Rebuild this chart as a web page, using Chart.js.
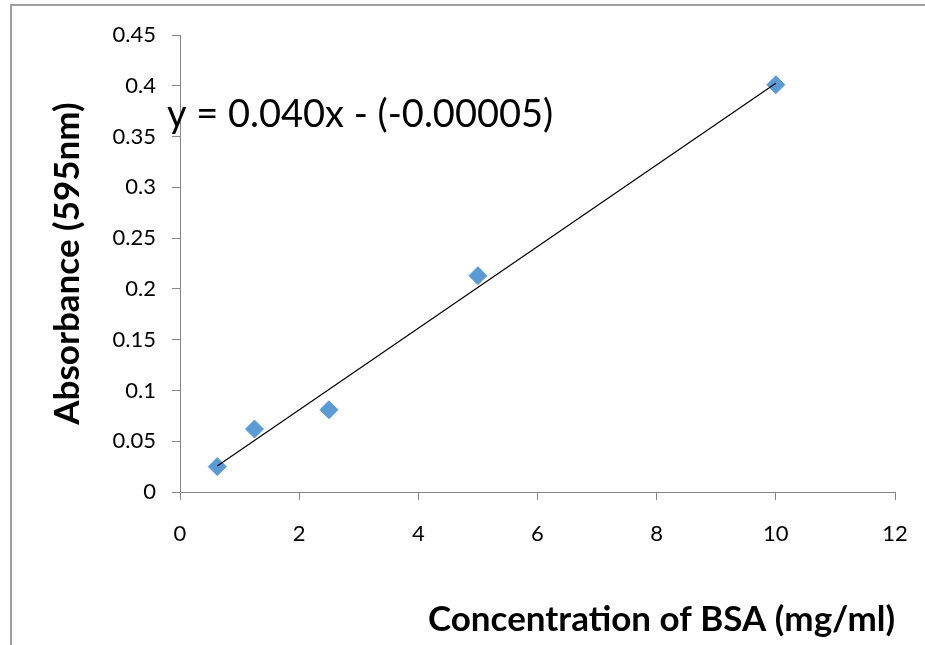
<!DOCTYPE html>
<html>
<head>
<meta charset="utf-8">
<script src="https://cdn.jsdelivr.net/npm/chart.js@4/dist/chart.umd.min.js"></script>
<style>
  body { margin: 0; background: #fff; }
  #wrap { position: relative; width: 925px; height: 645px; }
  #frame { position: absolute; left: 10px; top: 4px; right: 0; bottom: 0; border-top: 2px solid #a0a0a0; border-left: 2px solid #a0a0a0; pointer-events: none; }
  canvas { position: absolute; left: 0; top: 0; }
</style>
</head>
<body>
<div id="wrap">
  <canvas id="myChart" width="925" height="645"></canvas>
  <div id="frame"></div>
</div>
<script>
// BSA standard curve readings
const concentration = [0.625, 1.25, 2.5, 5, 10];
const absorbance = [0.025, 0.062, 0.081, 0.213, 0.401];

// linear trendline end points as drawn
const trendX = [0.625, 10];
const trendY = [0.0256, 0.4026];

const xTicks = [0, 2, 4, 6, 8, 10, 12];
const yTicks = [0, 0.05, 0.1, 0.15, 0.2, 0.25, 0.3, 0.35, 0.4, 0.45];

const equationText = "y = 0.040x - (-0.00005)";

const font = "Lato";
const axisGray = "#868686";

const equationLabel = {
    id: "equationLabel",
    afterDatasetsDraw(chart) {
        const ctx = chart.ctx;
        const x = chart.scales.x.getPixelForValue(-0.22);
        const y = chart.scales.y.getPixelForValue(0.371);
        ctx.save();
        ctx.font = "38px " + font;
        ctx.fillStyle = "#000";
        ctx.textAlign = "left";
        ctx.textBaseline = "middle";
        ctx.fillText(equationText, x, y);
        ctx.restore();
    }
};

let ctx = document.getElementById("myChart");
new Chart(ctx, {
    type: "scatter",
    data: {
        datasets: [
            {
                label: "Absorbance",
                data: concentration.map((c, i) => ({ x: c, y: absorbance[i] })),
                pointStyle: "rectRot",
                pointRadius: 9,
                pointBackgroundColor: "#5B9BD5",
                pointBorderColor: "#5B9BD5",
                pointBorderWidth: 1,
                showLine: false,
                order: 2,
            },
            {
                label: "Linear",
                data: trendX.map((c, i) => ({ x: c, y: trendY[i] })),
                showLine: true,
                borderColor: "#000",
                borderWidth: 1.2,
                pointRadius: 0,
                order: 1,
            },
        ],
    },
    options: {
        responsive: false,
        animation: false,
        layout: { padding: { top: 35, right: 30, left: 0, bottom: 0 } },
        plugins: {
            legend: { display: false },
            tooltip: { enabled: false },
        },
        scales: {
            x: {
                type: "linear",
                min: 0,
                max: 12,
                afterBuildTicks: (scale) => { scale.ticks = xTicks.map(v => ({ value: v })); },
                afterFit: (scale) => {
                    scale.height = 153;
                    scale.paddingLeft = 0;
                    scale.paddingRight = 0;
                },
                grid: { drawOnChartArea: false, color: axisGray, tickLength: 8 },
                border: { color: axisGray, width: 1 },
                ticks: { color: "#000", font: { family: font, size: 22 }, padding: 21 },
                title: {
                    display: true,
                    text: "Concentration of BSA (mg/ml)",
                    align: "end",
                    color: "#000",
                    font: { family: font, size: 35, weight: "bold" },
                    padding: { top: 0, bottom: 4 },
                },
            },
            y: {
                min: 0,
                max: 0.45,
                afterBuildTicks: (scale) => { scale.ticks = yTicks.map(v => ({ value: v })); },
                afterFit: (scale) => { scale.width = 180; },
                grid: { drawOnChartArea: false, color: axisGray, tickLength: 8 },
                border: { color: axisGray, width: 1 },
                ticks: {
                    color: "#000",
                    font: { family: font, size: 22 },
                    padding: 16,
                    callback: (v) => String(v),
                },
                title: {
                    display: true,
                    text: "Absorbance (595nm)",
                    color: "#000",
                    font: { family: font, size: 35, weight: "bold" },
                    padding: { top: 47, bottom: 0 },
                },
            },
        },
    },
    plugins: [equationLabel],
});
</script>
</body>
</html>
